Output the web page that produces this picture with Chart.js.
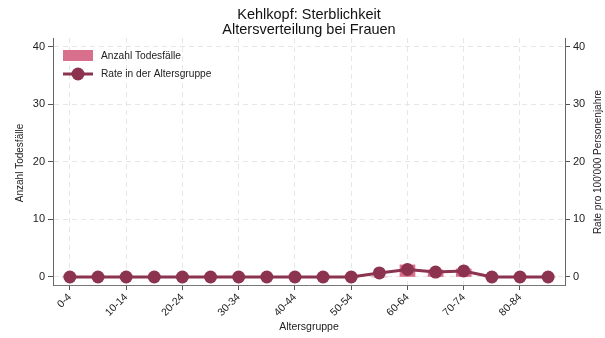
<!DOCTYPE html>
<html>
<head>
<meta charset="utf-8">
<script src="https://cdn.jsdelivr.net/npm/chart.js@4/dist/chart.umd.min.js"></script>
<style>
  html, body { margin: 0; padding: 0; background: #fff; }
  #wrap { width: 605px; height: 338px; }
</style>
</head>
<body>
<div id="wrap"><canvas id="c" width="605" height="338"></canvas></div>
<script>
// Age groups (5-year bands)
const ageGroups = ['0-4','5-9','10-14','15-19','20-24','25-29','30-34','35-39','40-44',
                   '45-49','50-54','55-59','60-64','65-69','70-74','75-79','80-84','85+'];
// Number of deaths per age group
const deaths = [0,0,0,0,0,0,0,0,0,0,0,0,2.1,1.2,1.4,0,0,0];
// Rate per 100'000 person-years
const rates  = [0,0,0,0,0,0,0,0,0,0,0,0.7,1.3,0.85,1.05,0,0,0];
// Axis ticks
const yTicks = [0,10,20,30,40];
const xTickIdx = [0,2,4,6,8,10,12,14,16];

const titleLines = ['Kehlkopf: Sterblichkeit','Altersverteilung bei Frauen'];
const leftTitle = 'Anzahl Todesfälle';
const rightTitle = "Rate pro 100'000 Personenjahre";
const xTitle = 'Altersgruppe';
const datasetsLabels = ['Anzahl Todesfälle','Rate in der Altersgruppe'];

const barColor = '#d86f8c';
const lineColor = '#8c3350';
const FONT = '"Liberation Sans", Arial, sans-serif';

const decorations = {
  id: 'decorations',
  afterDraw(chart) {
    const ctx = chart.ctx;
    const a = chart.chartArea;
    ctx.save();
    ctx.fillStyle = '#111';
    ctx.textAlign = 'center';
    ctx.textBaseline = 'middle';
    ctx.font = '14.5px ' + FONT;
    const cx = (a.left + a.right) / 2;
    ctx.fillText(titleLines[0], cx, 15);
    ctx.fillText(titleLines[1], cx, 30);

    ctx.font = '10.5px ' + FONT;
    ctx.fillStyle = '#222';
    ctx.fillText(xTitle, cx, 327);
    ctx.font = '10px ' + FONT;
    ctx.save();
    ctx.translate(20, 163);
    ctx.rotate(-Math.PI / 2);
    ctx.fillText(leftTitle, 0, 0);
    ctx.restore();
    ctx.save();
    ctx.translate(598, 162);
    ctx.rotate(-Math.PI / 2);
    ctx.fillText(rightTitle, 0, 0);
    ctx.restore();

    // legend inside the plot area
    const lx = a.left + 10;
    ctx.fillStyle = barColor;
    ctx.fillRect(lx, 50, 30, 11);
    ctx.strokeStyle = lineColor;
    ctx.lineWidth = 3;
    ctx.beginPath();
    ctx.moveTo(lx, 74);
    ctx.lineTo(lx + 30, 74);
    ctx.stroke();
    ctx.fillStyle = lineColor;
    ctx.beginPath();
    ctx.arc(lx + 15, 74, 6.5, 0, Math.PI * 2);
    ctx.fill();
    ctx.fillStyle = '#222';
    ctx.textAlign = 'left';
    ctx.font = '10.2px ' + FONT;
    ctx.fillText(datasetsLabels[0], lx + 38, 56);
    ctx.fillText(datasetsLabels[1], lx + 38, 74);
    ctx.restore();
  }
};

const gridDash = [5, 4];
const Y_MIN = -1.39, Y_MAX = 41.5;

new Chart(document.getElementById('c'), {
  data: {
    datasets: [
      {
        type: 'line',
        label: datasetsLabels[1],
        data: rates.map((v, i) => ({ x: i, y: v })),
        yAxisID: 'y2',
        borderColor: lineColor,
        backgroundColor: lineColor,
        borderWidth: 3,
        pointRadius: 6.5,
        pointHoverRadius: 6.5,
        pointBackgroundColor: lineColor,
        pointBorderWidth: 0,
        tension: 0,
        order: 0
      },
      {
        type: 'bar',
        label: datasetsLabels[0],
        data: deaths.map((v, i) => ({ x: i, y: v })),
        yAxisID: 'y',
        backgroundColor: barColor,
        barThickness: 15,
        order: 1
      }
    ]
  },
  options: {
    responsive: false,
    animation: false,
    layout: { padding: { top: 38, left: 0, right: 0, bottom: 0 } },
    plugins: { legend: { display: false }, tooltip: { enabled: false }, title: { display: false } },
    scales: {
      x: {
        type: 'linear',
        offset: false,
        min: -0.6, max: 17.6,
        afterBuildTicks: s => { s.ticks = xTickIdx.map(v => ({ value: v })); },
        afterFit: s => { s.height = 53; },
        ticks: {
          callback: v => ageGroups[v],
          maxRotation: 45, minRotation: 45,
          color: '#222',
          font: { size: 10.5, family: FONT },
          padding: 1
        },
        grid: { offset: false, color: '#e6e6e6', tickColor: '#555', tickLength: 5, drawTicks: true, tickBorderDash: [] },
        border: { display: true, color: '#777', width: 1, dash: gridDash }
      },
      y: {
        position: 'left',
        min: Y_MIN, max: Y_MAX,
        afterBuildTicks: s => { s.ticks = yTicks.map(v => ({ value: v })); },
        afterFit: s => { s.width = 53; },
        ticks: { color: '#222', font: { size: 11, family: FONT }, padding: 3 },
        grid: { color: '#e6e6e6', tickColor: '#555', tickLength: 5, tickBorderDash: [] },
        border: { display: true, color: '#666', width: 1, dash: gridDash }
      },
      y2: {
        position: 'right',
        min: Y_MIN, max: Y_MAX,
        afterBuildTicks: s => { s.ticks = yTicks.map(v => ({ value: v })); },
        afterFit: s => { s.width = 40; },
        ticks: { color: '#222', font: { size: 11, family: FONT }, padding: 3 },
        grid: { drawOnChartArea: false, tickColor: '#555', tickLength: 5 },
        border: { display: true, color: '#666', width: 1 }
      }
    }
  },
  plugins: [decorations]
});
</script>
</body>
</html>
